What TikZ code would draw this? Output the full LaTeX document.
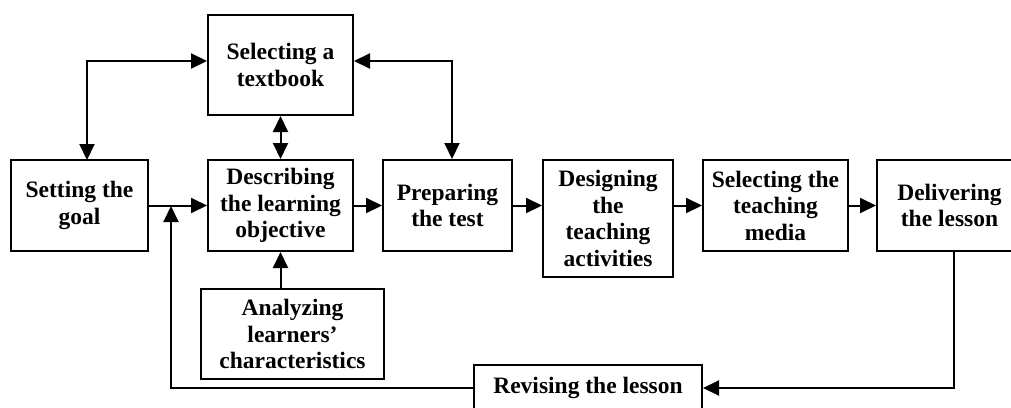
\documentclass[tikz,border=0pt]{standalone}
\usepackage{fontspec}
\setmainfont{Liberation Serif}
\usetikzlibrary{arrows.meta,calc}
\begin{document}
\begin{tikzpicture}[x=1pt,y=-1pt,
  box/.style={draw,line width=2pt,inner sep=0pt,align=center,
    font=\fontsize{23.5}{26.5}\selectfont\bfseries},
  conn/.style={line width=2pt,-{Triangle[length=16pt,width=15pt]}},
  dconn/.style={line width=2pt,{Triangle[length=16pt,width=15pt]}-{Triangle[length=16pt,width=15pt]}}]
\useasboundingbox (0,0) rectangle (1011,407);
\node[box,minimum width=137pt,minimum height=91pt] (goal) at (79.5,205.5) {Setting the\\goal};
\node[box,minimum width=145pt,minimum height=100pt] (book) at (280.5,65) {Selecting a\\textbook};
\node[box,minimum width=145pt,minimum height=91pt] (desc) at (280.5,205.5) {Describing\\the learning\\objective};
\node[box,minimum width=183pt,minimum height=90pt] (anal) at (292.5,334) {Analyzing\\learners’\\characteristics};
\node[box,minimum width=129pt,minimum height=91pt] (test) at (447.5,205.5) {Preparing\\the test};
\node[box,minimum width=130pt,minimum height=117pt] (design) at (608,218.5) {Designing\\the\\teaching\\activities};
\node[box,minimum width=145pt,minimum height=91pt] (media) at (775.5,205.5) {Selecting the\\teaching\\media};
\node[box,minimum width=145pt,minimum height=91pt] (deliver) at (949.5,205.5) {Delivering\\the lesson};
\node[box,minimum width=228pt,minimum height=46pt] (revise) at (588,388) {Revising the lesson};
\coordinate (j) at (171,206);
\coordinate (gl) at (87,61);
\coordinate (tr) at (452,61);
\coordinate (dd) at (954,251);
\draw[conn] (goal.east) -- (desc.west);
\draw[conn] (desc.east) -- (test.west);
\draw[conn] (test.east) -- (test.east -| design.west);
\draw[conn] (media.west -| design.east) -- (media.west);
\draw[conn] (media.east) -- (deliver.west);
\draw[dconn] (gl -| goal.north) ++(7.5,99) coordinate (gn) (gn) |- (book.west |- gl);
\draw[dconn] (tr |- test.north) |- (book.east |- tr);
\draw[dconn] (book.south) -- (desc.north);
\draw[conn] (anal.north -| desc.south) -- (desc.south);
\draw[conn] (dd) |- (revise.east);
\draw[conn] (revise.west) -| (j);
\end{tikzpicture}
\end{document}
